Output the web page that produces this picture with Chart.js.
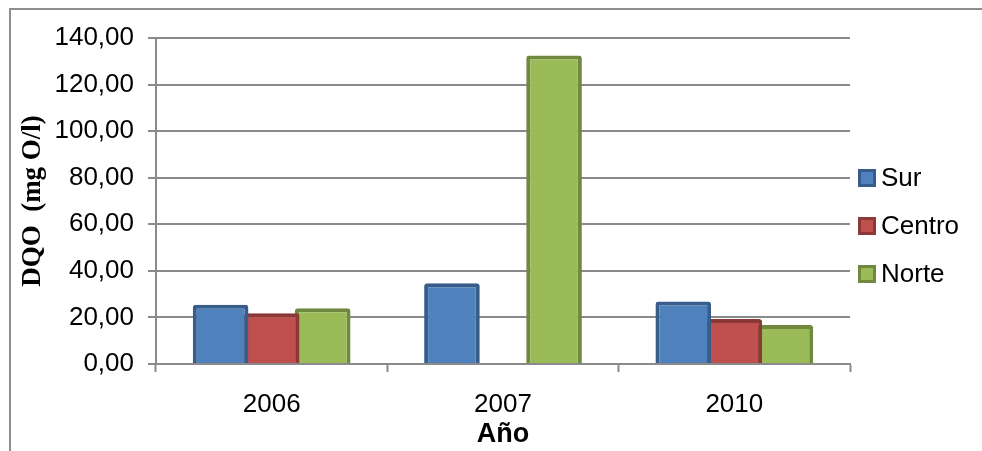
<!DOCTYPE html>
<html>
<head>
<meta charset="utf-8">
<script src="https://cdn.jsdelivr.net/npm/chart.js@4.4.1/dist/chart.umd.min.js"></script>
<style>
  html, body { margin: 0; padding: 0; background: #fff; }
  #wrap { width: 982px; height: 451px; }
</style>
</head>
<body>
<div id="wrap"><canvas id="myChart" width="982" height="451"></canvas></div>
<script>
// data
var years = ['2006', '2007', '2010'];
var sur = [25.4, 34.7, 26.8];
var centro = [21.8, null, 19.3];
var norte = [23.9, 132.5, 16.8];
var yTicks = [0, 20, 40, 60, 80, 100, 120, 140];

var fontName = '"Liberation Sans", Arial, sans-serif';

// gray frame round the chart (cut at right and bottom like the original)
var framePlugin = {
  id: 'frame',
  beforeDraw: function (chart) {
    var ctx = chart.ctx;
    ctx.save();
    ctx.strokeStyle = '#8e8e8e';
    ctx.lineWidth = 2;
    ctx.beginPath();
    ctx.moveTo(10, chart.height);
    ctx.lineTo(10, 9);
    ctx.lineTo(chart.width, 9);
    ctx.stroke();
    ctx.restore();
  }
};

// legend drawn by hand so box and text sit close together
var legendPlugin = {
  id: 'sideLegend',
  afterDraw: function (chart) {
    var ctx = chart.ctx;
    ctx.save();
    chart.data.datasets.forEach(function (ds, i) {
      var cy = 178 + i * 48;
      ctx.fillStyle = ds.borderColor;
      ctx.fillRect(858, cy - 9, 18, 18);
      ctx.fillStyle = ds.backgroundColor;
      ctx.fillRect(861, cy - 6, 12, 12);
      ctx.fillStyle = '#000';
      ctx.font = '26px ' + fontName;
      ctx.textBaseline = 'middle';
      ctx.textAlign = 'left';
      ctx.fillText(ds.label, 881, cy + 1);
    });
    ctx.restore();
  }
};

function makeSet(label, values, fill, border) {
  return {
    label: label,
    data: values,
    backgroundColor: fill,
    borderColor: border,
    borderWidth: 4,
    borderRadius: 3,
    borderSkipped: 'bottom',
    categoryPercentage: 0.662,
    barPercentage: 1.09
  };
}

var ctx = document.getElementById('myChart').getContext('2d');
var myChart = new Chart(ctx, {
  type: 'bar',
  data: {
    labels: years,
    datasets: [
      makeSet('Sur', sur, '#4F81BD', '#385D8A'),
      makeSet('Centro', centro, '#C0504D', '#8C3836'),
      makeSet('Norte', norte, '#9BBB59', '#71893F')
    ]
  },
  options: {
    responsive: false,
    animation: false,
    devicePixelRatio: 1,
    layout: { padding: { top: 38, right: 132, left: 0, bottom: 0 } },
    plugins: {
      legend: { display: false },
      tooltip: { enabled: false }
    },
    scales: {
      x: {
        grid: {
          display: true,
          drawOnChartArea: false,
          drawTicks: true,
          tickLength: 8,
          tickWidth: 2,
          tickColor: '#8a8a8a',
          offset: true
        },
        border: { color: '#8a8a8a', width: 2 },
        ticks: {
          color: '#000',
          font: { family: fontName, size: 26 },
          padding: 17
        },
        title: {
          display: true,
          text: 'Año',
          color: '#000',
          font: { family: fontName, size: 27, weight: 'bold' },
          padding: { top: 0, bottom: 0 }
        },
        afterFit: function (scale) { scale.height = 87; }
      },
      y: {
        min: 0,
        max: 140,
        afterBuildTicks: function (scale) {
          scale.ticks = yTicks.map(function (v) { return { value: v }; });
        },
        grid: {
          color: '#8a8a8a',
          lineWidth: 2,
          drawTicks: true,
          tickLength: 8,
          tickColor: '#8a8a8a'
        },
        border: { color: '#8a8a8a', width: 2 },
        ticks: {
          color: '#000',
          font: { family: fontName, size: 26 },
          padding: 14,
          callback: function (v) { return v.toFixed(2).replace('.', ','); }
        },
        title: {
          display: true,
          text: 'DQO  (mg O/l)',
          color: '#000',
          font: { family: '"Liberation Serif", "Times New Roman", serif', size: 27, weight: 'bold' },
          padding: { top: 17, bottom: 0 }
        },
        afterFit: function (scale) { scale.width = 156; }
      }
    }
  },
  plugins: [framePlugin, legendPlugin]
});
</script>
</body>
</html>
